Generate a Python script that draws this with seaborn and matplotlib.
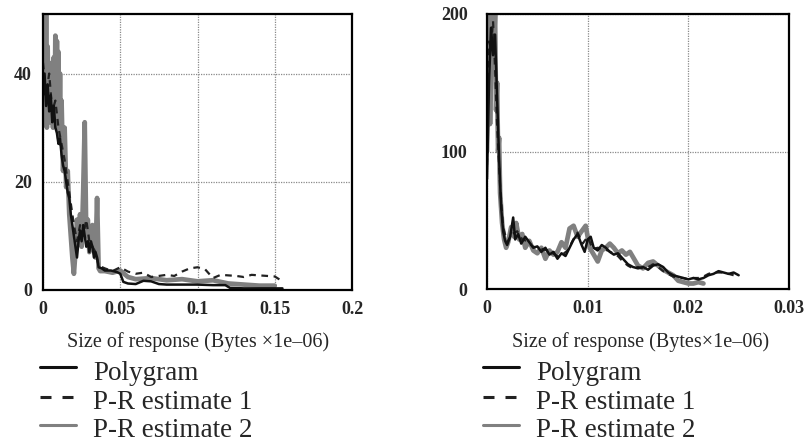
import matplotlib
matplotlib.use("Agg")
import matplotlib.pyplot as plt
from matplotlib.lines import Line2D
import seaborn as sns

# ─────────────────────────────────────────────
# DATA
# ─────────────────────────────────────────────

# left panel: x in Bytes x1e-06, y = density
left_poly_x = [0.000, 0.001, 0.002, 0.003, 0.004, 0.005, 0.006, 0.007, 0.008, 0.009,
               0.010, 0.011, 0.012, 0.013, 0.014, 0.015, 0.016, 0.017, 0.018, 0.019,
               0.020, 0.021, 0.022, 0.023, 0.024, 0.025, 0.026, 0.027, 0.028, 0.029,
               0.030, 0.031, 0.032, 0.033, 0.034, 0.035, 0.036, 0.038, 0.040, 0.044,
               0.048, 0.050, 0.052, 0.055, 0.060, 0.065, 0.070, 0.075, 0.080, 0.090,
               0.100, 0.110, 0.118, 0.121, 0.130, 0.140, 0.150, 0.155]
left_poly_y = [36, 40, 34, 38, 33, 36, 31, 34, 30, 29,
               27, 28, 25, 23, 22, 20, 18, 17, 14, 12,
               10, 8, 6, 9, 11, 9, 12, 10, 8, 9,
               7, 9, 8, 6, 7, 6, 4.2, 4.0, 3.6, 3.6,
               3.3, 3.0, 1.5, 1.2, 1.1, 1.7, 1.6, 1.1, 1.0, 1.0,
               1.0, 0.9, 0.9, 0.4, 0.3, 0.3, 0.3, 0.3]

left_est1_x = [0.000, 0.002, 0.004, 0.006, 0.008, 0.010, 0.012, 0.014, 0.016, 0.018,
               0.020, 0.022, 0.024, 0.026, 0.028, 0.030, 0.032, 0.034, 0.036, 0.040,
               0.045, 0.050, 0.055, 0.060, 0.065, 0.070, 0.075, 0.080, 0.085, 0.090,
               0.095, 0.100, 0.105, 0.110, 0.115, 0.120, 0.125, 0.130, 0.135, 0.140,
               0.145, 0.150, 0.155]
left_est1_y = [42, 36, 40, 33, 35, 30, 27, 24, 20, 16,
               12, 9, 12, 10, 13, 9, 8, 7, 4.5, 4.0,
               3.5, 4.2, 3.4, 3.0, 3.2, 2.4, 2.6, 2.8, 2.6, 3.4,
               4.0, 4.2, 3.8, 2.2, 2.8, 2.7, 2.6, 2.4, 2.8, 2.7,
               2.6, 2.5, 1.6]

left_est2_x = [0.0000, 0.0005, 0.0010, 0.0015, 0.0020, 0.0025, 0.0030, 0.0035, 0.0040, 0.0045,
               0.0050, 0.0055, 0.0060, 0.0065, 0.0070, 0.0075, 0.0080, 0.0085, 0.0090, 0.0095,
               0.0100, 0.0105, 0.0110, 0.0115, 0.0120, 0.013, 0.014, 0.015, 0.016, 0.017,
               0.018, 0.019, 0.020, 0.021, 0.022, 0.023, 0.024, 0.025, 0.026, 0.027,
               0.028, 0.029, 0.030, 0.031, 0.032, 0.033, 0.034, 0.035, 0.036, 0.037,
               0.040, 0.045, 0.050, 0.055, 0.060, 0.070, 0.080, 0.090, 0.100, 0.110,
               0.120, 0.130, 0.140, 0.150]
left_est2_y = [44, 31, 43, 32, 52, 30, 45, 33, 42, 31,
               40, 32, 38, 30, 43, 31, 47, 33, 46, 30,
               44, 28, 40, 27, 35, 22, 30, 19, 22, 14,
               10, 6, 3, 7, 13, 9, 14, 8, 18, 31,
               10, 13, 7, 9, 12, 8, 6, 17, 4, 3.5,
               3.5, 3.2, 3.6, 2.4, 2.0, 2.2, 1.8, 2.0, 1.6, 1.8,
               1.2, 1.0, 0.8, 0.8]

# right panel
right_poly_x = [0.0000, 0.0002, 0.0004, 0.0006, 0.0008, 0.0010, 0.0012, 0.0014, 0.0016, 0.0018,
                0.0020, 0.0023, 0.0026, 0.0028, 0.0031, 0.0034, 0.0038, 0.0042, 0.0046, 0.0050,
                0.0054, 0.0058, 0.0062, 0.0066, 0.0070, 0.0074, 0.0078, 0.0082, 0.0086, 0.0090,
                0.0094, 0.0097, 0.0100, 0.0103, 0.0106, 0.0110, 0.0114, 0.0118, 0.0122, 0.0126,
                0.0130, 0.0135, 0.0140, 0.0145, 0.0150, 0.0155, 0.0160, 0.0165, 0.0170, 0.0175,
                0.0180, 0.0185, 0.0190, 0.0195, 0.0200, 0.0205, 0.0210, 0.0215, 0.0220, 0.0225,
                0.0230, 0.0235, 0.0240, 0.0245, 0.0250]
right_poly_y = [80, 150, 190, 170, 185, 140, 95, 60, 42, 35,
                32, 38, 52, 36, 40, 33, 38, 34, 30, 31,
                27, 30, 25, 27, 22, 26, 24, 30, 36, 40,
                32, 27, 36, 38, 30, 28, 32, 30, 27, 25,
                26, 22, 18, 16, 15, 16, 14, 17, 18, 16,
                12, 10, 9, 8, 7, 8, 7, 8, 10, 11,
                13, 12, 11, 12, 10]

right_est1_x = [0.0000, 0.0002, 0.0004, 0.0006, 0.0008, 0.0010, 0.0013, 0.0016, 0.0020, 0.0025,
                0.0030, 0.0035, 0.0040, 0.0045, 0.0050, 0.0055, 0.0060, 0.0065, 0.0070, 0.0075,
                0.0080, 0.0085, 0.0090, 0.0095, 0.0100, 0.0105, 0.0110, 0.0115, 0.0120, 0.0125,
                0.0130, 0.0135, 0.0140, 0.0145, 0.0150, 0.0155, 0.0160, 0.0165, 0.0170, 0.0175,
                0.0180, 0.0185, 0.0190, 0.0195, 0.0200, 0.0205, 0.0210, 0.0215, 0.0220, 0.0225,
                0.0230, 0.0235, 0.0240, 0.0245]
right_est1_y = [90, 180, 175, 195, 160, 120, 75, 45, 34, 40,
                42, 36, 35, 31, 30, 29, 28, 26, 24, 25,
                28, 35, 41, 33, 38, 29, 30, 29, 28, 26,
                24, 20, 17, 15, 16, 15, 16, 18, 16, 13,
                11, 9, 8, 8, 7, 8, 8, 9, 11, 12,
                12, 12, 11, 10]

right_est2_x = [0.0000, 0.0002, 0.0003, 0.0005, 0.0006, 0.0008, 0.0009, 0.0010, 0.0011, 0.0012,
                0.0013, 0.0015, 0.0017, 0.0019, 0.0021, 0.0024, 0.0027, 0.0029, 0.0032, 0.0035,
                0.0038, 0.0042, 0.0046, 0.0050, 0.0054, 0.0058, 0.0062, 0.0066, 0.0070, 0.0074,
                0.0078, 0.0082, 0.0086, 0.0090, 0.0094, 0.0098, 0.0102, 0.0106, 0.0110, 0.0114,
                0.0118, 0.0122, 0.0126, 0.0130, 0.0134, 0.0138, 0.0142, 0.0146, 0.0150, 0.0155,
                0.0160, 0.0165, 0.0170, 0.0175, 0.0180, 0.0185, 0.0190, 0.0195, 0.0200, 0.0205,
                0.0210, 0.0215]
right_est2_y = [100, 200, 120, 200, 160, 200, 130, 150, 100, 110,
                70, 48, 36, 30, 34, 45, 38, 48, 36, 40,
                30, 35, 28, 26, 30, 22, 28, 25, 27, 34,
                30, 44, 46, 38, 42, 46, 30, 25, 20, 28,
                30, 33, 30, 26, 28, 25, 27, 22, 17, 15,
                19, 20, 17, 14, 12, 10, 6, 5, 4, 4,
                5, 4]

series_names = ["Polygram", "P-R estimate 1", "P-R estimate 2"]
xlabel_left = "Size of response (Bytes \u00d71e\u201306)"
xlabel_right = "Size of response (Bytes\u00d71e\u201306)"

# ─────────────────────────────────────────────
# STYLE
# ─────────────────────────────────────────────
sns.set_theme(style="white")
plt.rcParams["font.family"] = ["Liberation Serif", "DejaVu Serif"]
tick_font = dict(family=["Liberation Serif", "DejaVu Serif"], weight="bold", size=13)

styles = {
    "Polygram": dict(color="#111111", lw=1.8, ls="-"),
    "P-R estimate 1": dict(color="#222222", lw=1.6, ls=(0, (3, 2.5))),
    "P-R estimate 2": dict(color="#808080", lw=3.4, ls="-"),
}
# legend samples are drawn a bit differently from the data lines
legend_styles = {
    "Polygram": dict(color="#111111", lw=2.2, ls="-"),
    "P-R estimate 1": dict(color="#222222", lw=2.2, ls=(0, (3.6, 3.6))),
    "P-R estimate 2": dict(color="#808080", lw=2.2, ls="-"),
}

W, H = 811, 445
fig = plt.figure(figsize=(W / 100, H / 100), dpi=100)


def px_axes(x0, y0, x1, y1):
    return fig.add_axes([x0 / W, 1 - y1 / H, (x1 - x0) / W, (y1 - y0) / H])


def draw(ax, data, xlim, ylim, xticks, xticklabels, yticks, ypad):
    for name in ["P-R estimate 2", "P-R estimate 1", "Polygram"]:
        xs, ys = data[name]
        st = styles[name]
        sns.lineplot(x=xs, y=ys, ax=ax, sort=False, estimator=None,
                     color=st["color"], linewidth=st["lw"], linestyle=st["ls"])
    ax.set_xlim(*xlim)
    ax.set_ylim(*ylim)
    ax.set_xticks(xticks)
    ax.set_xticklabels(xticklabels, fontdict=tick_font)
    ax.set_yticks(yticks)
    ax.set_yticklabels([str(t) for t in yticks], fontdict=tick_font)
    ax.tick_params(length=0, axis="x", pad=8)
    ax.tick_params(length=0, axis="y", pad=ypad)
    ax.grid(True, color="#8a8a8a", linestyle=(0, (1, 1)), linewidth=0.9)
    for s in ax.spines.values():
        s.set_color("black")
        s.set_linewidth(1.6)
    ax.set_xlabel("")
    ax.set_ylabel("")


ax1 = px_axes(43, 14, 352, 290)
draw(ax1,
     {"Polygram": (left_poly_x, left_poly_y),
      "P-R estimate 1": (left_est1_x, left_est1_y),
      "P-R estimate 2": (left_est2_x, left_est2_y)},
     (0, 0.2), (0, 51), [0, 0.05, 0.1, 0.15, 0.2], ["0", "0.05", "0.1", "0.15", "0.2"],
     [0, 20, 40], 8)

ax2 = px_axes(487, 14, 789, 289)
draw(ax2,
     {"Polygram": (right_poly_x, right_poly_y),
      "P-R estimate 1": (right_est1_x, right_est1_y),
      "P-R estimate 2": (right_est2_x, right_est2_y)},
     (0, 0.03), (0, 200), [0, 0.01, 0.02, 0.03], ["0", "0.01", "0.02", "0.03"],
     [0, 100, 200], 14)

# x labels and legends under each panel
for lab, x_lab, x_line in [(xlabel_left, 67, 40), (xlabel_right, 512, 483)]:
    fig.text(x_lab / W, 1 - 347 / H, lab, fontsize=14.5, va="baseline", ha="left")
    for i, name in enumerate(series_names):
        y_line = [367, 397, 425][i]
        y_txt = [380, 409, 437][i]
        st = legend_styles[name]
        fig.add_artist(Line2D([x_line / W, (x_line + 36) / W], [1 - y_line / H] * 2,
                              color=st["color"], lw=st["lw"], ls=st["ls"],
                              transform=fig.transFigure))
        fig.text((x_line + 53) / W, 1 - y_txt / H, name, fontsize=19.5,
                 va="baseline", ha="left")

fig.savefig("out.png", dpi=100)
